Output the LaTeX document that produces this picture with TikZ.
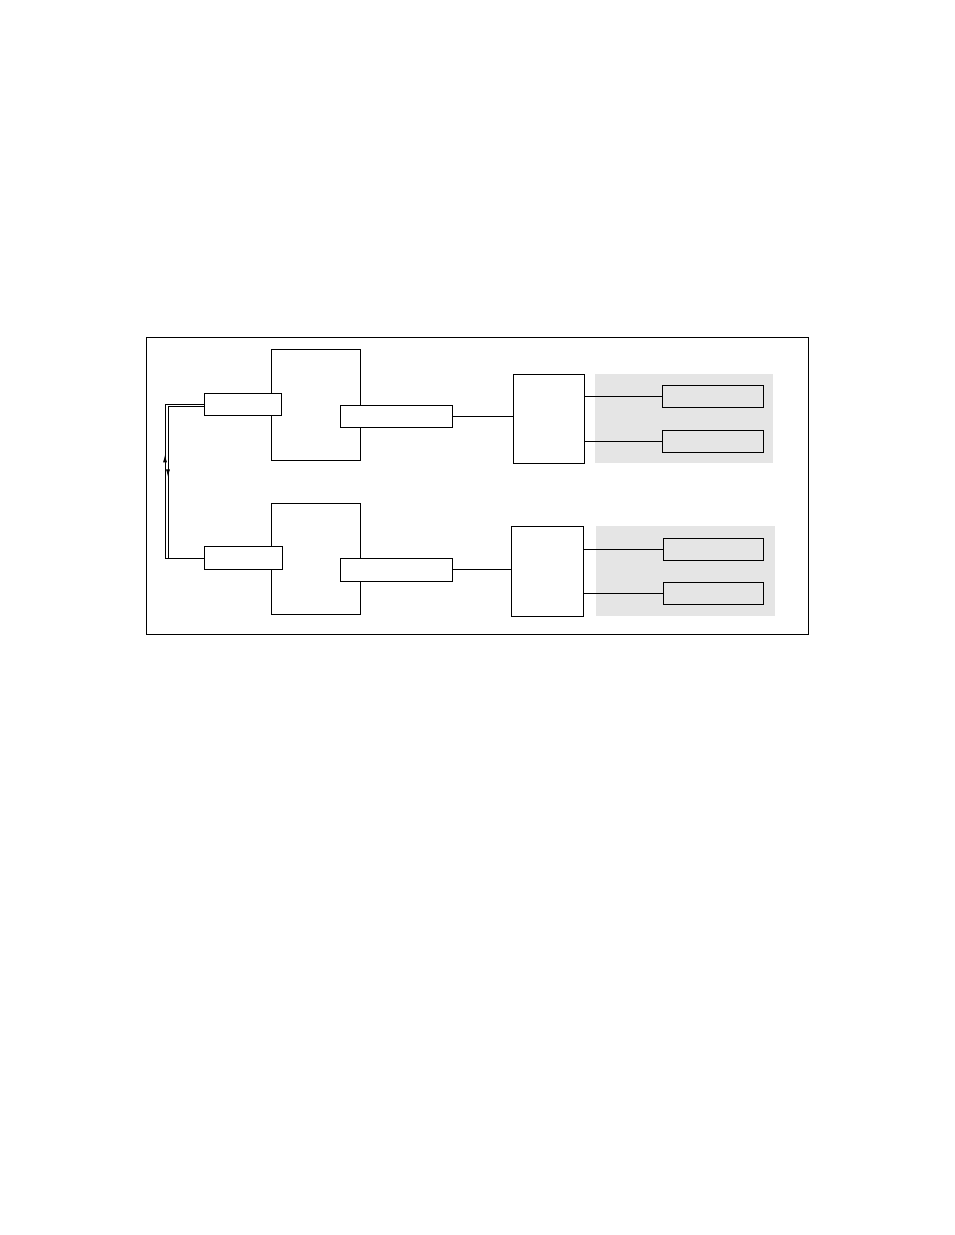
\documentclass[tikz,border=0pt]{standalone}
\usepackage{tikz}
\usetikzlibrary{arrows.meta,decorations.markings,calc}
\newcommand{\px}{0.6414pt}

\begin{document}
\begin{tikzpicture}[
			x = \px, y = -\px,
			line width = 0.6pt,
			every node/.style = {draw, inner sep = 0pt, outer sep = 0pt},
			unit/.style = {fill = white},
			panel/.style = {draw = none, fill = gray!20},
			slot/.style = {fill = gray!20},
			upmark/.style = {postaction = decorate, decoration = {markings,
				mark = at position 0.67 with {\arrow{Latex[length=5pt,width=2.6pt]}}}},
			downmark/.style = {postaction = decorate, decoration = {markings,
				mark = at position 0.47 with {\arrow{Latex[length=5pt,width=2.6pt]}}}}]

			\useasboundingbox (0,0) rectangle (954,1235);
			\draw (146,337) rectangle (808,634);

			% upper half
			\node[unit, minimum width = 89*\px, minimum height = 111*\px] (topcore) at (315.5,404.5) {};
			\node[unit, minimum width = 77*\px, minimum height = 22*\px] (toplink) at (242.5,404) {};
			\node[unit, minimum width = 112*\px, minimum height = 22*\px] (topport) at (396,416) {};
			\node[unit, minimum width = 71*\px, minimum height = 89*\px] (tophub) at (548.5,418.5) {};
			\node[panel, minimum width = 178*\px, minimum height = 89*\px] (toppanel) at (684,418.5) {};
			\node[slot, minimum width = 101*\px, minimum height = 22*\px] (topslota) at (712.5,396) {};
			\node[slot, minimum width = 101*\px, minimum height = 22*\px] (topslotb) at (712.5,441) {};

			\draw (topport.east) -- (topport.east -| tophub.west);
			\draw (tophub.east |- topslota.west) -- (topslota.west);
			\draw (tophub.east |- topslotb.west) -- (topslotb.west);

			% lower half
			\node[unit, minimum width = 89*\px, minimum height = 111*\px] (botcore) at (315.5,558.5) {};
			\node[unit, minimum width = 78*\px, minimum height = 23*\px] (botlink) at (243,557.5) {};
			\node[unit, minimum width = 112*\px, minimum height = 23*\px] (botport) at (396,569.5) {};
			\node[unit, minimum width = 72*\px, minimum height = 90*\px] (bothub) at (547,571) {};
			\node[panel, minimum width = 179*\px, minimum height = 90*\px] (botpanel) at (685.5,571) {};
			\node[slot, minimum width = 100*\px, minimum height = 22*\px] (botslota) at (713,549) {};
			\node[slot, minimum width = 100*\px, minimum height = 22*\px] (botslotb) at (713,593) {};

			\draw (botport.east) -- (botport.east -| bothub.west);
			\draw (bothub.east |- botslota.west) -- (botslota.west);
			\draw (bothub.east |- botslotb.west) -- (botslotb.west);

			% link between the two
			\draw ([xshift=1*\px]toplink.west) -- ++(-40,0) coordinate (outtop) |- ([xshift=1*\px,yshift=-0.5*\px]botlink.west);
			\draw ([xshift=1*\px,yshift=-2*\px]toplink.west) -- ++(-37,0) coordinate (intop) |- ([xshift=1*\px,yshift=-1.2*\px]botlink.west);
			\path[upmark] (outtop |- botlink.west) -- (outtop);
			\path[downmark] (intop) -- (intop |- botlink.west);

		\end{tikzpicture}
\end{document}
